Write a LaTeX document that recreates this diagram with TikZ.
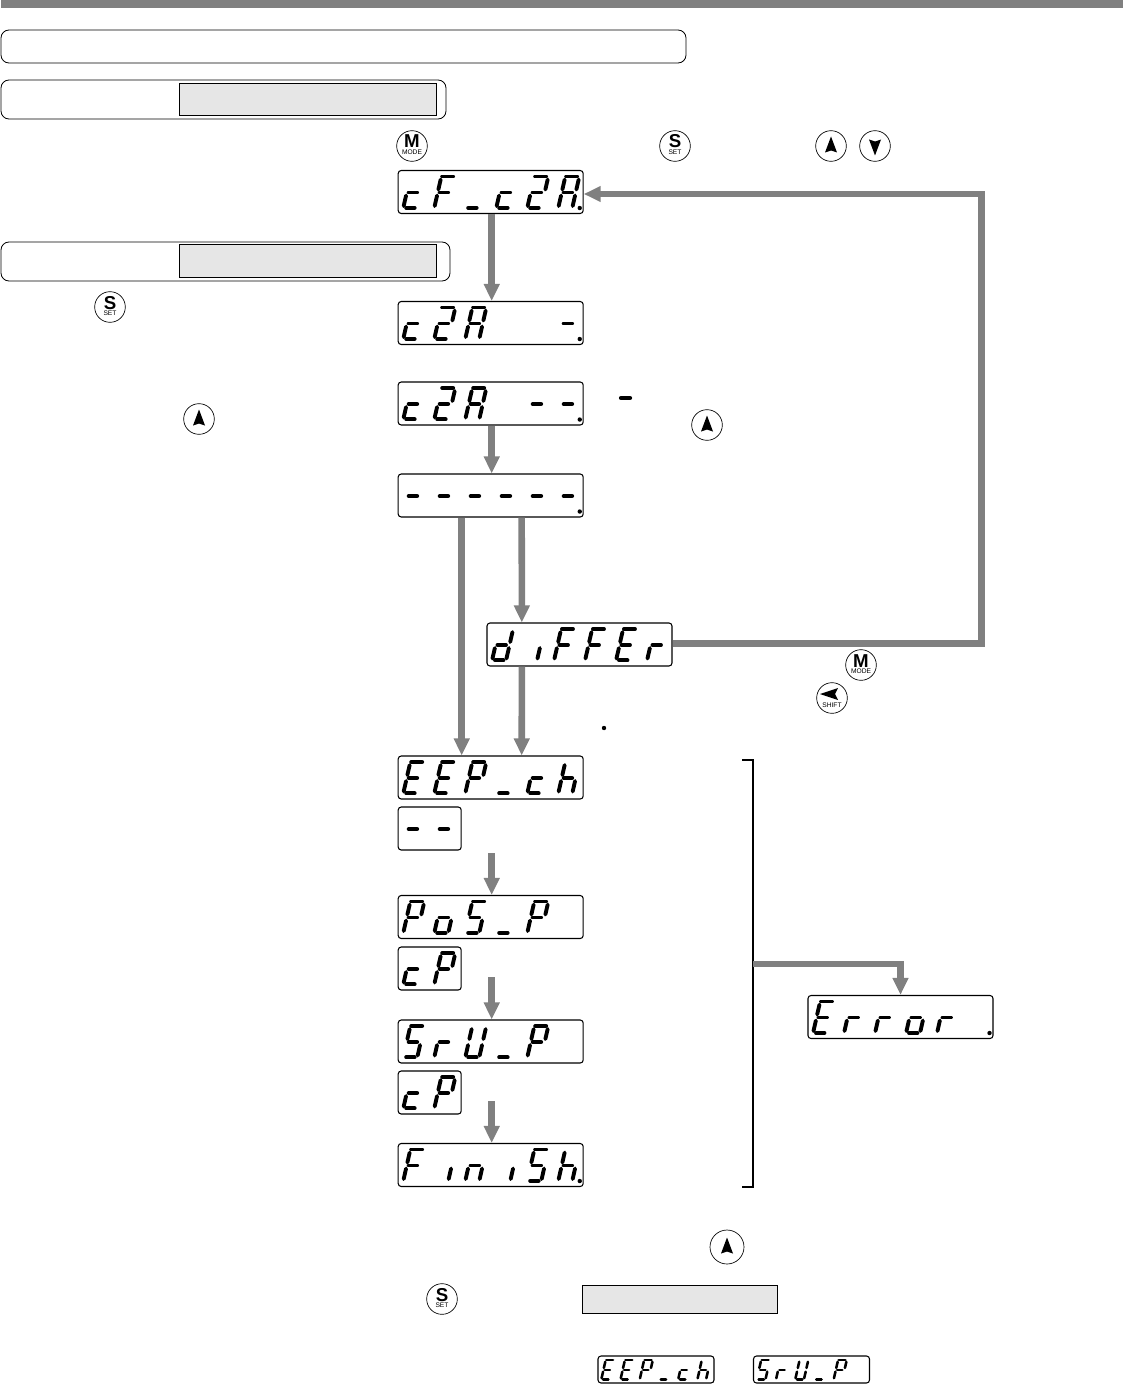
\documentclass[tikz,border=0pt]{standalone}
\usepackage{fontspec}
\setmainfont{Liberation Sans}
\usetikzlibrary{arrows.meta,calc}

\definecolor{flowgray}{RGB}{128,128,128}
\definecolor{blankgray}{RGB}{230,230,230}

\tikzset{
    every picture/.style={line width=0.75pt},
    panel/.style={draw=black,fill=white,rounded corners=2.25pt,inner sep=0pt,line width=0.8pt,
        minimum width=138.75pt,minimum height=32.25pt},
    panelshort/.style={panel,minimum width=47.25pt},
    panelsmall/.style={panel,minimum width=87pt,minimum height=20.25pt},
    framebox/.style={draw=black,rounded corners=6pt,inner sep=0pt,line width=0.6pt},
    blankbox/.style={draw=black,fill=blankgray,inner sep=0pt,line width=0.7pt},
    flow/.style={draw=flowgray,line width=4.9pt,-{Triangle[length=12.75pt,width=11.25pt]}},
    keybtn/.style={circle,draw=black,fill=white,inner sep=0pt,minimum size=23pt,line width=0.5pt},
    keymajor/.style={anchor=base,inner sep=0pt,font=\fontsize{14}{14}\selectfont\bfseries},
    keyminor/.style={anchor=base,inner sep=0pt,font=\fontsize{5}{5}\selectfont},
    seg/.style={line cap=round,line width=2.9pt}
}

% one digit of the display, bottom left corner at the origin
\def\segpatha{(8.5,-32.5)--(19.5,-32.5)}
\def\segpathb{(21,-29.5)--(18.7,-19.5)}
\def\segpathc{(17.4,-13.5)--(15,-3)}
\def\segpathd{(3.5,-1.2)--(12,-1.2)}
\def\segpathe{(3.4,-13.5)--(1,-3)}
\def\segpathf{(7,-29.5)--(4.7,-19.5)}
\def\segpathg{(6,-16.5)--(14.5,-16.5)}

\def\glyphc{d,e,g}
\def\glyphd{b,c,d,e,g}
\def\glyphE{a,d,e,f,g}
\def\glyphF{a,e,f,g}
\def\glyphh{c,e,f,g}
\def\glyphi{c}
\def\glyphn{c,e,g}
\def\glypho{c,d,e,g}
\def\glyphP{a,b,e,f,g}
\def\glyphr{e,g}
\def\glyphS{a,c,d,f,g}
\def\glyphU{b,c,d,e,f}
\def\glyphA{a,b,c,e,f,g}
\def\glyphtwo{a,b,d,e,g}
\def\glyphdash{g}
\def\glyphlow{d}

% node, scale, characters
\newcommand{\sevtext}[3]{%
    \begin{scope}[shift={($(#1.south west)+(1+4*#2,-1-4*#2)$)},scale=#2]
        \foreach \ch [count=\n from 0] in {#3}{
            \ifx\ch\empty\else
            \expandafter\let\expandafter\chsegs\csname glyph\ch\endcsname
            \foreach \s in \chsegs{
                \expandafter\let\expandafter\segcur\csname segpath\s\endcsname
                \draw[seg,line width={2.6pt*#2+0.3pt},xshift={\n*23.25pt}] \segcur;
            }
            \fi
        }
    \end{scope}}
\newcommand{\sevdot}[1]{\fill ([shift={(-4,-6)}]#1.south east) circle (2.2);}

% node, big letter, small word
\newcommand{\keytext}[3]{%
    \node [keymajor] (#1major) at ([yshift=1.5pt]#1.center) {#2};
    \node [keyminor] (#1minor) at ([yshift=6.5pt]#1.center) {#3};}
\newcommand{\keyup}[1]{\fill ([shift={(0,-9.5)}]#1.center) -- ++(6,16) -- ++(-6,-2) -- ++(-6,2) -- cycle;}
\newcommand{\keydown}[1]{\fill ([shift={(0,9.5)}]#1.center) -- ++(6,-16) -- ++(-6,2) -- ++(-6,-2) -- cycle;}

\begin{document}
\begin{tikzpicture}[
            x=0.75pt,
            y=0.75pt,
            yscale=-1,
            xscale=1
        ]
            \useasboundingbox (0,0) rectangle (1123,1384);

            \fill [flowgray] (1,0) rectangle (1123,8);

            % frames at the top
            \draw [framebox] (1,30) rectangle (686,63);
            \draw [framebox] (1,80) rectangle (446,119);
            \draw [framebox] (1,242) rectangle (450,281);
            \node [blankbox,minimum width=192.75pt,minimum height=24.25pt] (blankA) at (308,99.25) {};
            \node [blankbox,minimum width=192.75pt,minimum height=24.5pt] (blankB) at (308,260.75) {};
            \node [blankbox,minimum width=146.25pt,minimum height=21pt] (blankC) at (679.5,1299) {};

            % displays
            \node [panel] (cfca) at (490.7,192) {};
            \node [panel] (caone) at (490.7,323) {};
            \node [panel] (catwo) at (490.7,403.5) {};
            \node [panel] (dashes) at (490.7,495.5) {};
            \node [panel] (differ) at (579.5,644.5) {};
            \node [panel] (eepch) at (490.7,777.5) {};
            \node [panelshort] (eepval) at (429.7,828.5) {};
            \node [panel] (posp) at (490.7,917) {};
            \node [panelshort] (pospval) at (429.7,968.5) {};
            \node [panel] (srup) at (490.7,1041.5) {};
            \node [panelshort] (srupval) at (429.7,1092.5) {};
            \node [panel] (finish) at (490.7,1165) {};
            \node [panel] (error) at (900.5,1017) {};
            \node [panelsmall] (eepnote) at (656,1369.5) {};
            \node [panelsmall] (srunote) at (811.5,1369.5) {};

            \sevtext{cfca}{1}{c,F,low,c,two,A}
            \sevtext{caone}{1}{c,two,A,,,dash}
            \sevtext{catwo}{1}{c,two,A,,dash,dash}
            \sevtext{dashes}{1}{dash,dash,dash,dash,dash,dash}
            \sevtext{differ}{1}{d,i,F,F,E,r}
            \sevtext{eepch}{1}{E,E,P,low,c,h}
            \sevtext{eepval}{1}{dash,dash}
            \sevtext{posp}{1}{P,o,S,low,P}
            \sevtext{pospval}{1}{c,P}
            \sevtext{srup}{1}{S,r,U,low,P}
            \sevtext{srupval}{1}{c,P}
            \sevtext{finish}{1}{F,i,n,i,S,h}
            \sevtext{error}{1}{E,r,r,o,r}
            \sevtext{eepnote}{0.62}{E,E,P,low,c,h}
            \sevtext{srunote}{0.62}{S,r,U,low,P}

            \sevdot{cfca}
            \sevdot{caone}
            \sevdot{catwo}
            \sevdot{dashes}
            \sevdot{finish}
            \sevdot{error}

            % loose segment and dot beside the displays
            \coordinate (looseseg) at (625.5,398);
            \draw [seg] ([xshift=-3.5pt]looseseg) -- ([xshift=3.5pt]looseseg);
            \coordinate (loosedot) at (604,728);
            \fill (loosedot) circle (2.2);

            % connectors
            \draw [flow] ([xshift=0.75pt]cfca.south) -- ([xshift=0.75pt]caone.north);
            \draw [flow] ([xshift=0.75pt]catwo.south) -- ([xshift=0.75pt]dashes.north);
            \draw [flow] ([xshift=-21.75pt]dashes.south) -- ([xshift=-21.75pt]eepch.north);
            \draw [flow] ([xshift=23.25pt]dashes.south) -- ([xshift=-43.25pt]differ.north);
            \draw [flow] ([xshift=-43.25pt]differ.south) -- ([xshift=23.25pt]eepch.north);
            \coordinate (backcorner) at (981.5,194);
            \draw [flow] ([yshift=-0.75pt]differ.east) -| (backcorner) -- ([yshift=1.5pt]cfca.east);

            \coordinate (eepstart) at (491.7,853);
            \coordinate (posstart) at (491.7,977);
            \coordinate (srustart) at (491.7,1101);
            \draw [flow] (eepstart) -- ([xshift=0.75pt]posp.north);
            \draw [flow] (posstart) -- ([xshift=0.75pt]srup.north);
            \draw [flow] (srustart) -- ([xshift=0.75pt]finish.north);

            % bracket and its branch
            \coordinate (brtop) at (753,760);
            \coordinate (brbot) at (753,1187);
            \coordinate (brmid) at (753,964);
            \draw [line width=1.5pt] ([xshift=-8.25pt]brtop) -- (brtop) -- (brbot) -- ([xshift=-8.25pt]brbot);
            \draw [flow] (brmid) -| (error.north);

            % keys
            \node [keybtn] (keymodeA) at (412,146) {};
            \node [keybtn] (keysetA) at (675,146) {};
            \node [keybtn] (keyupA) at (831,146) {};
            \node [keybtn] (keydownA) at (875,146) {};
            \node [keybtn] (keysetB) at (110,307) {};
            \node [keybtn] (keyupB) at (199,419) {};
            \node [keybtn] (keyupC) at (707,425) {};
            \node [keybtn] (keymodeB) at (861,665) {};
            \node [keybtn] (keyshift) at (832,698) {};
            \node [keybtn,minimum size=25.5pt] (keyupD) at (727,1247) {};
            \node [keybtn] (keysetC) at (442,1299) {};
            \keytext{keymodeA}{M}{MODE}
            \keytext{keysetA}{S}{SET}
            \keytext{keysetB}{S}{SET}
            \keytext{keymodeB}{M}{MODE}
            \keytext{keysetC}{S}{SET}
            \keyup{keyupA}
            \keydown{keydownA}
            \keyup{keyupB}
            \keyup{keyupC}
            \keyup{keyupD}
            \fill ([shift={(-12,-4)}]keyshift.center) -- ++(18,-6) -- ++(-3,6) -- ++(3,6) -- cycle;
            \node [keyminor] (keyshiftminor) at ([yshift=7pt]keyshift.center) {SHIFT};
        \end{tikzpicture}
\end{document}
